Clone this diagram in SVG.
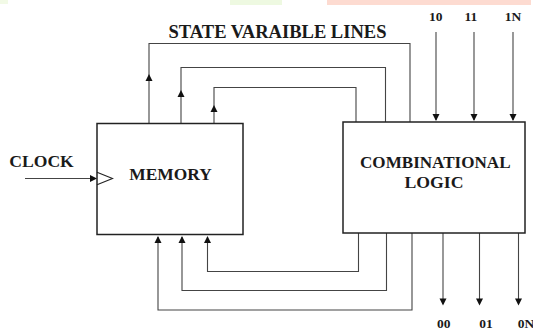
<svg xmlns="http://www.w3.org/2000/svg" width="533" height="332" viewBox="0 0 533 332">
<style>
.box{fill:#fff;stroke:#222;stroke-width:1.5}
.ln{fill:none;stroke:#444;stroke-width:1.1}
.ah{fill:#111}
text{font-family:"Liberation Serif","Times New Roman",serif;font-weight:bold;fill:#1a1a1a}
.num{font-size:13.5px;text-anchor:middle}
</style>
<defs>
<path id="dn" d="M-3.5,-7 L3.5,-7 L0,0 Z"/>
<path id="up" d="M-3.5,7 L3.5,7 L0,0 Z"/>
</defs>
<rect width="533" height="332" fill="#fff"/>
<g id="band">
<rect x="0" y="0" width="8" height="4" fill="#f2fae6"/>
<rect x="230" y="0" width="52" height="5" fill="#eef9e1"/>
<rect x="327" y="0" width="204" height="5" fill="#fddbd1"/>
</g>
<g id="connectors">
<path class="ln" d="M149,123 V43.5 H410 V122"/>
<path class="ln" d="M181,123 V67.5 H385.5 V122"/>
<path class="ln" d="M214,123 V87.5 H356 V122"/>
<use class="ah" href="#up" x="149" y="74"/>
<use class="ah" href="#up" x="181" y="90"/>
<use class="ah" href="#up" x="214" y="105"/>
<path class="ln" d="M358.5,233 V271.5 H207.5 V237"/>
<path class="ln" d="M386.5,233 V290.5 H182 V237"/>
<path class="ln" d="M412,233 V310 H158 V237"/>
<use class="ah" href="#up" x="207.5" y="236"/>
<use class="ah" href="#up" x="182" y="236"/>
<use class="ah" href="#up" x="158" y="236"/>
<path class="ln" d="M436,32 V120"/>
<path class="ln" d="M474,32 V120"/>
<path class="ln" d="M513,32 V120"/>
<use class="ah" href="#dn" x="436" y="121"/>
<use class="ah" href="#dn" x="474" y="121"/>
<use class="ah" href="#dn" x="513" y="121"/>
<path class="ln" d="M443,233 V304"/>
<path class="ln" d="M479.5,233 V304"/>
<path class="ln" d="M518.5,233 V304"/>
<use class="ah" href="#dn" x="443" y="305.5"/>
<use class="ah" href="#dn" x="479.5" y="305.5"/>
<use class="ah" href="#dn" x="518.5" y="305.5"/>
<path class="ln" d="M25,178.5 H91"/>
<use class="ah" href="#dn" transform="translate(97,178.5) rotate(-90)"/>
</g>
<g id="memory">
<rect class="box" x="97" y="123.5" width="146" height="111"/>
<path d="M97,172.3 L112.5,178.5 L97,184.7" fill="none" stroke="#222" stroke-width="1.1"/>
<text x="170.5" y="180" font-size="17" text-anchor="middle" textLength="82.5" lengthAdjust="spacingAndGlyphs">MEMORY</text>
</g>
<g id="combinational">
<rect class="box" x="343" y="122" width="182" height="111"/>
<text x="435.3" y="168.3" font-size="17" text-anchor="middle" textLength="150.5" lengthAdjust="spacingAndGlyphs">COMBINATIONAL</text>
<text x="434" y="188" font-size="17" text-anchor="middle" textLength="59" lengthAdjust="spacingAndGlyphs">LOGIC</text>
</g>
<g id="labels">
<text x="277.5" y="37.7" font-size="18" text-anchor="middle" textLength="218" lengthAdjust="spacingAndGlyphs">STATE VARAIBLE LINES</text>
<text x="9.3" y="167.3" font-size="17" textLength="64.5" lengthAdjust="spacingAndGlyphs">CLOCK</text>
<text class="num" x="435.8" y="20.7">10</text>
<text class="num" x="471" y="20.7">11</text>
<text class="num" x="513" y="20.7">1N</text>
<text class="num" x="443.7" y="328.3">00</text>
<text class="num" x="486" y="328.3">01</text>
<text x="517.7" y="328.3" font-size="13.5">0N</text>
</g>
</svg>
